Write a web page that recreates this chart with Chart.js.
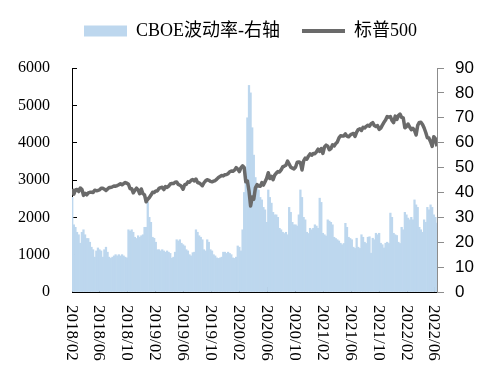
<!DOCTYPE html>
<html>
<head>
<meta charset="utf-8">
<script src="https://cdn.jsdelivr.net/npm/chart.js@4.4.0/dist/chart.umd.min.js"></script>
<style>
html,body{margin:0;padding:0;background:#fff;}
#wrap{width:501px;height:378px;position:relative;}
</style>
</head>
<body>
<div id="wrap"><canvas id="c" width="501" height="378"></canvas></div>
<script>
// ---- data (weekly, first week ending 2018-02-02) ----
const startDate = '2018-02-02';
const seriesNames = ['CBOE波动率-右轴', '标普500'];
const tickLabels = ['2018/02','2018/06','2018/10','2019/02','2019/06','2019/10','2020/02','2020/06','2020/10','2021/02','2021/06','2021/10','2022/02','2022/06'];

const spx = [
  2762,2620,2732,2747,2691,2786,2752,2588,2641,2604,2656,2670,2670,2663,2728,2713,2721,2735,2779,2780,2755,2718,2760,2801,2802,2819,2840,2833,2850,2875,2902,2872,2905,2930,2914,2886,2767,2768,2658,2723,2781,2736,2633,2760,2633,2600,2417,2486,
  2532,2596,2671,2665,2707,2708,2776,2793,2804,2743,2822,2800,2834,2893,2907,2905,2940,2946,2881,2860,2826,2752,2873,2887,2950,2942,2990,3014,2977,3026,2932,2919,2889,2847,2926,2979,3007,2992,2962,2952,2970,2986,3023,3067,3093,3120,3110,3141,3146,3169,3221,3240,
  3235,3265,3330,3295,3226,3328,3380,3338,2954,2972,2711,2305,2541,2489,2790,2875,2837,2831,2930,2864,2955,3044,3194,3041,3098,3009,3130,3185,3225,3216,3271,3351,3373,3397,3508,3427,3341,3319,3298,3348,3477,3484,3465,3270,3510,3585,3558,3638,3699,3663,3709,3703,3756,
  3825,3768,3841,3714,3887,3934,3907,3811,3842,3943,3913,3975,4020,4129,4185,4180,4181,4233,4174,4156,4204,4230,4247,4166,4281,4352,4370,4327,4412,4395,4437,4468,4442,4509,4535,4459,4433,4455,4357,4391,4471,4545,4605,4698,4683,4698,4595,4538,4712,4620,4726,4766,
  4677,4663,4398,4432,4500,4419,4349,4385,4329,4204,4463,4543,4546,4488,4393,4272,4132,4123,4024,3901,4158,4109,3901
];

const vix = [
  38,27,26,24,23,19.6,24,25,23,21.5,
  21.5,20,18,17,14,16.5,17.7,17,16.5,14,
  17,18,16,14,13.5,14,14.5,15,14.5,15,
  14.5,15,14.5,14,13.7,25,24.5,25,24,22,
  21.5,22.6,22,22.6,23,26,26,36,30,28,
  22,21.6,20,17,17,16.5,17,16.5,16,16.5,
  16,15.5,13.6,14,16,21,20.5,21,19.6,19,
  18.5,17,16.5,15,14.5,15.8,16,25,24,22.6,
  22,21,17,16.5,21,20,17,16.5,15,14.5,
  13.7,13.5,13.7,14,16,16,15.5,16,15.5,15,
  13.7,13.5,14,18.5,18,16.5,25,40,50,70,
  83,80,66,55,46,42,41,38,37,34,
  33,28,41,38,35.7,32,31,31,30,25.6,
  25,24,23.5,24,23,34,32,28,27,27,
  26.5,31,41,38,30,29,24,23.5,25.6,25,
  25.6,27,26.5,25.6,37.7,36,23.6,23,22.5,29,
  28.5,28,27,22,21.5,21,20.5,19.6,19,19.5,
  27.6,26,22,21.5,21,18,17.5,21.6,18,17.5,
  23,22,20,19.5,22,22.2,15.6,21.6,21,23.6,
  23,23.6,19.6,19,17.7,19.6,20,19.5,31.7,30,
  23.6,23,22.7,20,19.5,26,25,32,31,29.7,
  29,30,29,37,35,34,26,25,24,29,
  28,34,33,35,34,31,30,27.7
];

// ---- derived positions (days since start) ----
const DAY = 86400000;
const t0 = Date.parse(startDate + 'T00:00:00Z');
const weekX = spx.map((_, i) => i * 7);
const tickX = tickLabels.map(s => {
  const [y, m] = s.split('/').map(Number);
  return (Date.UTC(y, m - 1, 1) - t0) / DAY;
});

const BAR_COLOR = '#bdd7ee';
const LINE_COLOR = '#6a6a6a';

const xLabelPlugin = {
  id: 'xRotLabels',
  afterDraw(chart) {
    const s = chart.scales.x;
    const ctx = chart.ctx;
    ctx.save();
    ctx.font = '17px "Liberation Serif"';
    ctx.fillStyle = '#000';
    ctx.textAlign = 'left';
    ctx.textBaseline = 'middle';
    s.ticks.forEach((t, i) => {
      const x = s.getPixelForValue(t.value);
      ctx.save();
      ctx.translate(x - 1, s.top + 13);
      ctx.rotate(Math.PI / 2);
      ctx.fillText(tickLabels[i], 0, 0);
      ctx.restore();
    });
    ctx.restore();
  }
};

const legendHeightPlugin = {
  id: 'legendHeight',
  beforeLayout(chart) {
    const lg = chart.legend;
    if (lg && !lg._patched) {
      lg._patched = true;
      const origFit = lg.fit.bind(lg);
      lg.fit = function () { origFit(); this.height = 68; };
    }
  }
};

new Chart(document.getElementById('c'), {
  data: {
    datasets: [
      {
        type: 'line',
        label: seriesNames[1],
        data: weekX.map((x, i) => ({ x, y: spx[i] })),
        yAxisID: 'y',
        borderColor: LINE_COLOR,
        borderWidth: 3.5,
        pointRadius: 0,
        tension: 0,
        borderJoinStyle: 'round'
      },
      {
        type: 'bar',
        label: seriesNames[0],
        data: weekX.map((x, i) => ({ x, y: vix[i] })),
        yAxisID: 'y1',
        backgroundColor: BAR_COLOR,
        borderWidth: 0,
        barPercentage: 1,
        categoryPercentage: 1
      }
    ]
  },
  options: {
    responsive: false,
    animation: false,
    events: [],
    layout: { padding: 0 },
    plugins: {
      tooltip: { enabled: false },
      legend: {
        position: 'top',
        labels: {
          usePointStyle: true,
          pointStyleWidth: 43,
          boxHeight: 11,
          padding: 22,
          color: '#000',
          font: { family: "'Liberation Serif','Noto Sans CJK SC'", size: 18 },
          generateLabels: () => [
            { text: seriesNames[0], fillStyle: BAR_COLOR, strokeStyle: BAR_COLOR, lineWidth: 0, pointStyle: 'rect', datasetIndex: 1, hidden: false, fontColor: '#000' },
            { text: seriesNames[1], fillStyle: LINE_COLOR, strokeStyle: LINE_COLOR, lineWidth: 4, pointStyle: 'line', datasetIndex: 0, hidden: false, fontColor: '#000' }
          ]
        }
      }
    },
    scales: {
      x: {
        type: 'linear',
        min: -1,
        max: weekX[weekX.length - 1],
        offset: false,
        afterBuildTicks: s => { s.ticks = tickX.map(v => ({ value: v })); },
        ticks: { display: false },
        grid: { offset: false, drawOnChartArea: false, drawTicks: true, tickLength: -5, color: '#000', lineWidth: 1 },
        border: { color: '#000', width: 1 },
        afterFit: s => { s.height = 86; }
      },
      y: {
        position: 'left',
        min: 0, max: 6000,
        ticks: { stepSize: 1000, padding: 27, color: '#000', font: { family: "'Liberation Serif'", size: 16 }, callback: v => String(v) },
        grid: { drawOnChartArea: false, tickLength: -5, color: '#000' },
        border: { color: '#000', width: 1 },
        afterFit: s => { s.width = 72; }
      },
      y1: {
        position: 'right',
        min: 0, max: 90,
        ticks: { stepSize: 10, padding: 11, color: '#000', font: { family: "'Liberation Sans'", size: 17 }, callback: v => String(v) },
        grid: { drawOnChartArea: false, tickLength: 7, color: '#8c8c8c' },
        border: { color: '#8c8c8c', width: 1 },
        afterFit: s => { s.width = 64; }
      }
    }
  },
  plugins: [legendHeightPlugin, xLabelPlugin]
});
</script>
</body>
</html>
